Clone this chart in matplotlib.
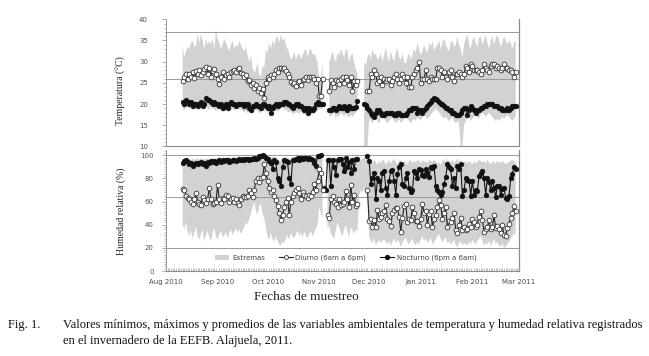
import matplotlib
matplotlib.use("Agg")
import matplotlib.pyplot as plt
import matplotlib.dates as mdates
from matplotlib.ticker import MultipleLocator
from matplotlib.patches import Patch
from matplotlib.lines import Line2D
import numpy as np
import pandas as pd

nan = np.nan
start_date = "2010-08-11"

# ---------------- Temperature (°C) ----------------
temp_diurno = [
    25.5, 26.5, 27.0, 26.0, 27.2, 26.3, 27.5, 26.2, 27.8, 27.0,
    28.0, 26.8, 27.5, 28.3, 28.8, 27.2, 28.5, 26.5, 27.8, 28.2,
    27.0, 26.0, 24.8, 26.5, 27.5, 26.0, 26.8, 27.2, 26.5, 27.5,
    27.8, 28.0, 27.5, 28.2, 28.6, 27.3, 27.0, 26.5, 26.8, 25.5,
    25.8, 24.5, 25.0, 23.8, 24.5, 23.0, 23.8, 22.5, 23.5, 21.5,
    25.0, 26.5, 26.0, 26.8, 26.3, 27.2, 28.0, 27.5, 28.4, 28.6,
    28.3, 28.5, 27.8, 27.2, 26.5, 25.2, 24.8, 25.0, 24.3, 25.2,
    25.5, 24.5, 25.8, 26.0, 26.3, 25.8, 26.5, 26.3, 26.5, 26.0,
    25.0, 26.0, 22.0, 22.0, 26.0,
] + [nan] * 3 + [
    23.2, 25.8, 25.0, 24.0, 25.8, 25.5, 24.8, 26.0, 26.5, 25.0,
    26.5, 25.6, 24.5, 26.5, 23.0, 25.5, 24.5, 25.5,
] + [nan] * 5 + [
    23.0, 23.0, 27.0, 26.5, 28.0, 27.0, 25.0, 25.5, 26.5, 24.5,
    26.0, 25.5, 26.0, 26.0, 24.5, 25.5, 26.5, 27.0, 26.0, 25.0,
    26.0, 27.0, 26.5, 25.0, 26.5, 24.0, 24.0, 26.5, 27.0, 28.0,
    28.5, 30.0, 25.0, 26.0, 26.0, 28.0, 26.0, 25.5, 26.5, 26.0,
    26.0, 26.0, 28.5, 28.5, 28.0, 26.5, 27.5, 26.5, 26.0, 27.5,
    28.0, 26.5, 25.5, 27.0, 27.0, 27.5, 27.0, 26.5, 27.0, 29.0,
    28.5, 27.5, 29.5, 29.0, 28.0, 28.0, 28.0, 27.5, 27.0, 28.0,
    29.5, 28.5, 28.0, 27.5, 29.0, 29.5, 29.5, 28.5, 29.0, 28.5,
    28.0, 28.5, 29.5, 28.5, 28.5, 28.0, 28.0, 27.5, 26.5, 27.5,
]

temp_nocturno = [
    20.5, 20.0, 21.0, 20.5, 20.0, 20.5, 19.5, 20.0, 20.0, 19.5,
    20.0, 20.5, 19.5, 20.0, 21.5, 21.0, 21.0, 20.5, 20.0, 20.5,
    20.0, 20.0, 19.5, 20.0, 19.0, 19.5, 20.0, 19.0, 20.0, 20.5,
    20.0, 20.0, 19.5, 20.0, 20.0, 20.0, 20.0, 19.5, 20.0, 20.0,
    19.0, 18.5, 19.5, 19.5, 20.0, 19.5, 19.5, 19.0, 20.0, 20.0,
    19.5, 19.0, 19.5, 18.0, 19.0, 19.5, 20.0, 19.5, 20.0, 20.0,
    20.0, 20.5, 20.5, 20.0, 20.0, 19.5, 19.0, 19.5, 20.0, 20.0,
    19.5, 19.5, 19.0, 18.5, 19.0, 18.0, 19.0, 18.5, 18.5, 19.0,
    20.0, 20.5, 20.0, 20.0, 20.0,
] + [nan] * 3 + [
    18.5, 18.5, 19.0, 19.0, 18.5, 19.0, 19.5, 19.0, 19.0, 19.5,
    19.0, 18.5, 19.5, 19.0, 19.0, 19.0, 19.2, 20.8,
] + [nan] * 3 + [
    20.0, 19.8, 19.0, 18.5, 18.0, 17.5, 17.0, 18.0, 18.5, 18.5,
    18.0, 17.5, 17.5, 18.0, 18.0, 18.0, 18.0, 18.0, 17.5, 17.5,
    18.0, 18.0, 17.5, 17.5, 17.5, 17.5, 18.0, 18.5, 18.5, 19.0,
    19.0, 19.0, 18.0, 18.5, 18.5, 18.0, 18.5, 19.0, 19.5, 20.0,
    20.5, 21.0, 21.5, 21.2, 21.0, 20.5, 20.0, 20.0, 19.5, 19.0,
    19.0, 18.5, 18.5, 18.0, 18.0, 17.5, 17.5, 17.5, 18.0, 18.5,
    19.0, 19.0, 17.5, 18.5, 19.5, 19.0, 18.5, 18.0, 18.5, 18.5,
    19.0, 19.0, 19.5, 19.5, 20.0, 20.0, 20.0, 20.0, 19.5, 19.5,
    19.5, 19.0, 19.0, 18.5, 18.5, 18.5, 19.0, 18.5, 19.0, 19.5,
    19.5, 19.5,
]

temp_max = [
    34.0, 31.0, 32.5, 33.5, 33.0, 34.5, 35.0, 33.5, 34.0, 36.5,
    34.5, 36.5, 35.0, 33.0, 35.5, 34.0, 35.0, 34.0, 35.5, 33.0,
    37.5, 35.5, 34.5, 33.0, 34.0, 35.5, 34.5, 33.5, 32.5, 34.0,
    35.0, 33.0, 34.0, 33.5, 35.0, 34.0, 33.0, 32.5, 33.5, 31.5,
    30.0, 31.5, 28.5, 27.5, 28.0, 30.0, 27.0, 26.5, 29.0, 28.5,
    33.0, 32.0, 34.5, 33.0, 35.0, 34.0, 35.5, 36.0, 34.5, 36.5,
    35.0, 35.5, 34.0, 33.0, 32.0, 30.5, 31.0, 32.5, 30.5, 31.5,
    32.0, 30.5, 31.5, 32.5, 33.0, 31.0, 32.5, 33.0, 31.5, 32.0,
    31.0, 30.0, 26.0, 26.0, 30.0,
] + [nan] * 3 + [
    30.0, 31.0, 32.5, 31.0, 30.0, 32.0, 31.5, 33.0, 32.0, 31.0,
    33.0, 32.5, 30.0, 31.5, 32.0, 30.0, 28.0, 27.5,
] + [nan] * 3 + [
    30.0, 29.0, 31.0, 32.0, 30.5, 33.0, 31.5, 32.0, 30.5, 31.0,
    32.0, 30.0, 31.5, 33.5, 31.0, 30.0, 32.5, 31.0, 30.0, 32.0,
    33.5, 31.0, 30.5, 32.0, 30.0, 29.5, 31.0, 32.0, 30.5, 31.5,
    33.0, 32.0, 34.5, 33.0, 31.5, 32.5, 34.0, 33.0, 32.0, 34.5,
    33.5, 35.0, 32.5, 33.5, 34.0, 35.0, 33.0, 34.5, 35.5, 34.0,
    33.0, 32.5, 34.5, 35.0, 33.5, 34.0, 36.0, 34.0, 33.0, 31.0,
    34.0, 35.5, 36.5, 34.0, 33.0, 35.0, 36.0, 34.5, 33.5, 35.5,
    36.0, 34.0, 35.0, 36.5, 34.5, 33.0, 35.0, 36.0, 34.0, 35.5,
    36.5, 35.0, 33.5, 34.5, 36.0, 35.0, 34.0, 35.0, 34.5, 33.0,
    34.5, 35.0,
]

temp_min = [
    19.0, 18.5, 19.2, 19.5, 18.8, 19.0, 18.5, 19.0, 19.3, 18.6,
    19.0, 19.5, 18.8, 19.2, 19.8, 19.0, 18.5, 19.4, 18.8, 19.0,
    18.3, 18.8, 19.0, 18.5, 18.0, 18.8, 19.2, 18.6, 18.2, 18.8,
    19.0, 18.5, 18.8, 19.2, 18.6, 18.9, 18.4, 18.0, 18.5, 17.8,
    18.3, 18.0, 17.6, 18.2, 18.6, 18.4, 18.0, 17.8, 18.5, 18.2,
    18.6, 18.2, 17.8, 18.5, 18.8, 19.0, 18.6, 18.2, 18.5, 18.9,
    19.2, 18.6, 18.8, 18.3, 18.0, 18.4, 17.5, 18.0, 17.8, 18.2,
    17.6, 18.3, 17.9, 17.4, 17.8, 18.2, 17.5, 17.8, 18.0, 17.6,
    18.2, 18.5, 18.8, 19.0, 18.5,
] + [nan] * 3 + [
    17.5, 17.0, 17.5, 18.0, 16.5, 17.5, 17.0, 18.0, 17.5, 17.0,
    17.8, 17.2, 16.8, 17.5, 17.0, 17.5, 18.0, 18.5,
] + [nan] * 3 + [
    10.0, 10.0, 10.0, 16.5, 16.0, 15.5, 16.5, 17.0, 16.0, 15.5,
    16.5, 17.0, 16.5, 16.0, 15.5, 16.0, 16.5, 17.0, 16.0, 15.5,
    16.0, 16.5, 15.5, 16.0, 16.5, 17.0, 16.5, 16.0, 15.5, 16.0,
    16.5, 16.0, 17.0, 16.5, 16.0, 17.0, 17.5, 17.0, 16.5, 17.0,
    17.5, 18.0, 18.5, 19.0, 18.5, 18.0, 17.5, 17.0, 16.5, 17.0,
    16.5, 16.0, 16.5, 17.0, 16.0, 15.5, 16.0, 15.5, 10.0, 10.0,
    15.0, 16.0, 16.5, 17.0, 16.0, 16.5, 17.0, 17.5, 17.0, 16.5,
    17.5, 18.0, 17.5, 17.0, 17.5, 18.0, 17.5, 17.0, 16.5, 16.0,
    16.5, 16.0, 16.5, 17.0, 16.5, 17.0, 17.5, 17.0, 16.5, 16.0,
    16.5, 17.0,
]

# ---------------- Relative humidity (%) ----------------
rh_diurno = [
    71, 70, 65, 63, 62, 60, 58, 62, 67, 60,
    58, 57, 64, 61, 59, 62, 72, 62, 58, 59,
    60, 74, 62, 59, 63, 62, 66, 65, 60, 62,
    63, 60, 62, 59, 57, 62, 65, 64, 64, 65,
    70, 67, 64, 70, 78, 80, 77, 80, 81, 92,
    85, 78, 72, 68, 70, 65, 61, 56, 50, 44,
    48, 55, 60, 63, 48, 60, 65, 67, 70, 72,
    67, 62, 68, 66, 65, 63, 66, 65, 68, 75,
    70, 78, 88, 85, 70,
] + [nan] * 2 + [
    48, 46, 62, 65, 60, 58, 55, 62, 57, 58,
    60, 69, 62, 55, 74, 60, 66, 56, 58,
] + [nan] * 5 + [
    70, 43, 45, 38, 44, 38, 53, 45, 47, 50,
    52, 57, 45, 43, 39, 50, 53, 54, 54, 47,
    34, 46, 56, 58, 42, 45, 44, 55, 50, 43,
    43, 39, 45, 58, 50, 52, 40, 49, 52, 38,
    45, 48, 55, 61, 57, 45, 50, 55, 38, 43,
    42, 46, 50, 35, 33, 40, 46, 35, 38, 35,
    36, 41, 38, 45, 42, 38, 40, 47, 52, 44,
    34, 36, 38, 44, 36, 38, 48, 37, 39, 36,
    33, 40, 31, 30, 37, 41, 46, 50, 56, 52,
]

rh_nocturno = [
    93, 95, 96, 94, 92, 93, 91, 92, 93, 92,
    93, 94, 92, 93, 91, 94, 93, 95, 94, 95,
    93, 95, 96, 94, 96, 95, 96, 96, 94, 95,
    96, 96, 95, 96, 97, 96, 97, 96, 97, 97,
    96, 97, 97, 98, 97, 98, 99, 99, 100, 99,
    98, 97, 95, 93, 88, 96, 94, 80, 78, 73,
    90, 96, 95, 94, 80, 75, 96, 96, 97, 98,
    96, 98, 97, 98, 98, 97, 98, 97, 96, 93,
    91, 99, 99, 100,
] + [nan] * 1 + [
    72, 70, 96, 96, 73, 96, 90, 83, 96, 97,
    97, 92, 86, 98, 90, 94, 85, 96, 88, 97, 97,
] + [nan] * 5 + [
    99, 95, 75, 80, 85, 62, 80, 78, 70, 85,
    86, 72, 66, 78, 86, 87, 78, 66, 84, 90,
    92, 75, 73, 80, 85, 72, 68, 70, 86, 85,
    80, 88, 87, 83, 82, 88, 85, 81, 90, 89,
    91, 73, 70, 68, 66, 68, 75, 81, 92, 90,
    88, 73, 80, 72, 91, 88, 92, 65, 70, 80,
    79, 78, 65, 78, 66, 70, 69, 82, 85, 86,
    80, 66, 80, 77, 70, 78, 72, 64, 73, 73,
    66, 71, 72, 63, 62, 65, 80, 84, 90, 88,
]

rh_max = [
    96, 97, 97, 96, 97, 96, 97, 96, 97, 97,
    96, 97, 97, 96, 97, 97, 96, 97, 97, 97,
    97, 97, 98, 97, 97, 98, 97, 98, 98, 97,
    98, 98, 97, 98, 98, 98, 98, 98, 98, 98,
    98, 98, 99, 99, 99, 99, 100, 100, 100, 100,
    100, 99, 99, 98, 98, 99, 98, 97, 96, 95,
    97, 98, 98, 98, 97, 96, 98, 98, 98, 99,
    99, 99, 99, 99, 99, 99, 99, 99, 98, 98,
    98, 100, 100, 100, 100,
] + [nan] * 2 + [
    97, 98, 98, 97, 98, 98, 97, 98, 98, 98,
    97, 98, 97, 98, 97, 98, 97, 98, 96, 95,
    96, 97, 98, 99,
] + [
    99, 98, 95, 93, 96, 94, 92, 95, 93, 96,
    95, 92, 94, 96, 93, 95, 97, 94, 92, 95,
    96, 93, 95, 94, 92, 95, 96, 93, 95, 94,
    96, 95, 93, 96, 94, 95, 93, 96, 95, 94,
    96, 95, 93, 94, 92, 95, 96, 94, 97, 95,
    94, 96, 93, 95, 97, 94, 96, 92, 94, 95,
    93, 95, 94, 92, 95, 93, 94, 96, 95, 94,
    95, 93, 96, 94, 92, 95, 94, 93, 95, 94,
    93, 95, 94, 92, 93, 94, 95, 96, 95, 94,
]

rh_min = [
    40, 36, 42, 34, 30, 35, 28, 33, 38, 30,
    27, 32, 36, 25, 31, 35, 29, 26, 33, 37,
    30, 27, 32, 35, 29, 31, 34, 28, 33, 36,
    31, 34, 37, 33, 36, 32, 35, 38, 42, 40,
    45, 50, 55, 60, 52, 48, 56, 58, 50, 45,
    38, 30, 27, 33, 28, 25, 30, 26, 23, 22,
    25, 24, 28, 31, 27, 33, 30, 28, 32, 35,
    30, 33, 29, 34, 31, 28, 32, 35, 30, 33,
    36, 40, 55, 50, 45,
] + [nan] * 2 + [
    36, 40, 32, 30, 28, 35, 42, 38, 33, 30,
    36, 40, 34, 29, 38, 35, 32, 36, 34, 65,
    70, 68, 72, 70,
] + [
    60, 30, 26, 24, 28, 22, 25, 27, 24, 26,
    28, 25, 23, 26, 22, 25, 28, 24, 27, 25,
    21, 24, 27, 29, 25, 23, 26, 28, 24, 22,
    25, 23, 27, 30, 26, 28, 24, 26, 29, 23,
    25, 27, 30, 32, 28, 25, 27, 29, 24, 26,
    23, 25, 27, 22, 21, 24, 26, 22, 24, 23,
    22, 25, 23, 27, 25, 23, 26, 28, 30, 26,
    22, 24, 23, 26, 22, 24, 28, 23, 25, 22,
    21, 24, 20, 21, 23, 25, 28, 30, 33, 31,
]

temp_reflines = [37, 26]
rh_reflines = [100, 64, 20]
month_ticks = ["2010-08-01", "2010-09-01", "2010-10-01", "2010-11-01",
               "2010-12-01", "2011-01-01", "2011-02-01", "2011-03-01"]
month_labels = ["Aug 2010", "Sep 2010", "Oct 2010", "Nov 2010",
                "Dec 2010", "Jan 2011", "Feb 2011", "Mar 2011"]
legend_labels = ["Extremas", "Diurno (6am a 6pm)", "Nocturno (6pm a 6am)"]

for name, arr in [("td", temp_diurno), ("tn", temp_nocturno), ("tmax", temp_max),
                  ("tmin", temp_min), ("rd", rh_diurno), ("rn", rh_nocturno),
                  ("rmax", rh_max), ("rmin", rh_min)]:
    assert len(arr) == 201, (name, len(arr))

dates = pd.date_range(start_date, periods=201, freq="D")

W, H = 649, 356
fig = plt.figure(figsize=(W / 100, H / 100), dpi=100)
fig.patch.set_facecolor("white")

L, R = 166, 519
ax1 = fig.add_axes([L / W, 1 - 146.5 / H, (R - L) / W, (146.5 - 19.3) / H])
ax2 = fig.add_axes([L / W, 1 - 271 / H, (R - L) / W, (271 - 150) / H])

fill_c = "#d2d2d2"
axis_c = "#8c8c8c"
text_c = "#555555"

def style(ax):
    ax.set_facecolor("white")
    ax.spines["top"].set_visible(False)
    ax.spines["left"].set_color(axis_c)
    ax.spines["left"].set_linewidth(0.6)
    ax.spines["right"].set_color(axis_c)
    ax.spines["right"].set_linewidth(0.9)
    ax.spines["bottom"].set_color(axis_c)
    ax.spines["bottom"].set_linewidth(0.8)
    ax.set_xlim(pd.Timestamp("2010-08-01"), pd.Timestamp("2011-03-01"))
    ax.tick_params(axis="y", which="major", length=3, width=0.5, color=axis_c,
                   labelsize=5, labelcolor=text_c)
    ax.tick_params(axis="y", which="minor", length=1.5, width=0.4, color=axis_c)

# Top panel
tmin = np.array(temp_min, dtype=float)
tmax = np.array(temp_max, dtype=float)
ok = ~np.isnan(tmin) & ~np.isnan(tmax)
ax1.fill_between(dates, np.where(ok, tmin, 0), np.where(ok, tmax, 0), where=ok,
                 color=fill_c, lw=0, zorder=1)
for v in temp_reflines:
    ax1.axhline(v, color="#9a9a9a", lw=0.7, zorder=2)
ax1.plot(dates, temp_diurno, "-o", color="#222222", lw=0.8, ms=3.4,
         mfc="white", mec="#333333", mew=0.6, zorder=4)
ax1.plot(dates, temp_nocturno, "-o", color="#111111", lw=0.8, ms=3.4,
         mfc="#111111", mec="#111111", mew=0.4, zorder=3)
style(ax1)
ax1.set_ylim(10, 40)
ax1.yaxis.set_major_locator(MultipleLocator(5))
ax1.yaxis.set_minor_locator(MultipleLocator(1))
ax1.tick_params(axis="y", which="major", pad=10)
ax1.set_xticks([])
ax1.tick_params(axis="x", which="both", length=0)

# Bottom panel
rmin = np.array(rh_min, dtype=float)
rmax = np.array(rh_max, dtype=float)
ok2 = ~np.isnan(rmin) & ~np.isnan(rmax)
ax2.fill_between(dates, np.where(ok2, rmin, 0), np.where(ok2, rmax, 0), where=ok2,
                 color=fill_c, lw=0, zorder=1)
for v in rh_reflines:
    ax2.axhline(v, color="#9a9a9a", lw=0.7, zorder=2)
ax2.plot(dates, rh_diurno, "-o", color="#222222", lw=0.8, ms=3.4,
         mfc="white", mec="#333333", mew=0.6, zorder=4)
ax2.plot(dates, rh_nocturno, "-o", color="#111111", lw=0.8, ms=3.4,
         mfc="#111111", mec="#111111", mew=0.4, zorder=3)
style(ax2)
ax2.set_ylim(0, 104.5)
ax2.set_yticks([0, 20, 40, 60, 80, 100])
ax2.yaxis.set_minor_locator(MultipleLocator(2))
ax2.tick_params(axis="y", which="major", pad=6)
ax2.set_xticks(pd.to_datetime(month_ticks))
ax2.set_xticklabels(month_labels)
ax2.xaxis.set_minor_locator(mdates.DayLocator())
ax2.tick_params(axis="x", which="major", length=0, pad=6, labelsize=5,
                labelcolor="#4a4a4a")
ax2.tick_params(axis="x", which="minor", length=2, width=0.4, color=axis_c,
                direction="in")

handles = [
    Patch(facecolor=fill_c, edgecolor="none"),
    Line2D([], [], color="#222222", lw=0.8, marker="o", ms=2.8, mfc="white",
           mec="#333333", mew=0.6),
    Line2D([], [], color="#111111", lw=0.8, marker="o", ms=2.8, mfc="#111111",
           mec="#111111"),
]
fig.legend(handles, legend_labels, loc="center", ncol=3,
           bbox_to_anchor=(346 / W, 1 - 258 / H), frameon=False,
           fontsize=5, labelcolor="#444444", handlelength=2.0,
           handleheight=0.9, columnspacing=2.0, handletextpad=0.4)

serif = ["Liberation Serif", "DejaVu Serif"]
fig.text(121 / W, 1 - 91 / H, "Temperatura (°C)", rotation=90, ha="center",
         va="center", fontsize=7, family=serif, color="#222222")
fig.text(121 / W, 1 - 211 / H, "Humedad relativa (%)", rotation=90, ha="center",
         va="center", fontsize=7, family=serif, color="#222222")
fig.text(306 / W, 1 - 297 / H, "Fechas de muestreo", ha="center", va="center",
         fontsize=9.5, family=serif, color="#222222")

fig.text(8 / W, 1 - 325 / H, "Fig. 1.", ha="left", va="center", fontsize=9,
         family=serif, color="#111111")
fig.text(63 / W, 1 - 325 / H,
         "Valores mínimos, máximos y promedios de las variables ambientales de "
         "temperatura y humedad relativa registrados",
         ha="left", va="center", fontsize=9, family=serif, color="#111111")
fig.text(63 / W, 1 - 341 / H,
         "en el invernadero de la EEFB. Alajuela, 2011.",
         ha="left", va="center", fontsize=9, family=serif, color="#111111")

fig.savefig("out.png", dpi=100, facecolor="white")
